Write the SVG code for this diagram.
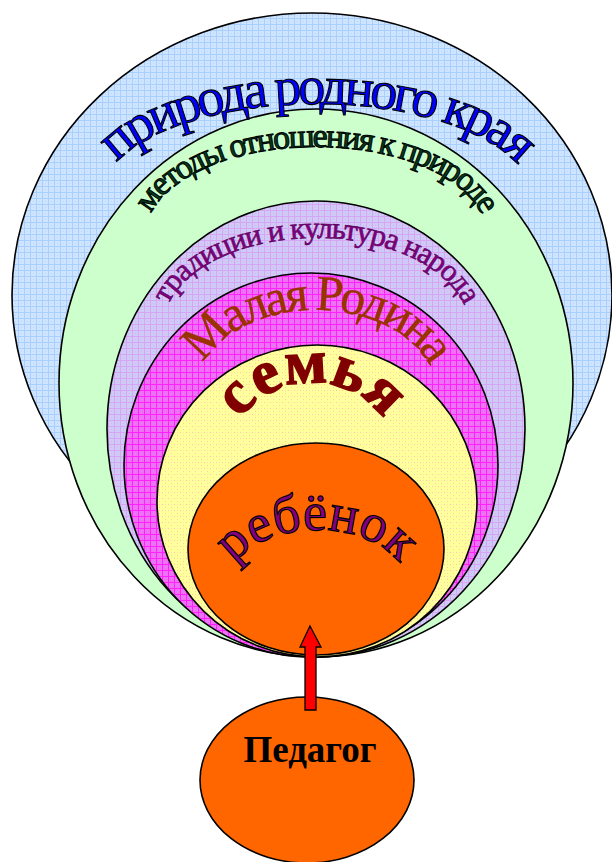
<svg xmlns="http://www.w3.org/2000/svg" width="612" height="862" viewBox="0 0 612 862">
<defs>
<pattern id="pBlue" width="6" height="6" patternUnits="userSpaceOnUse">
<rect width="6" height="6" fill="#CFE5FF"/>
<path d="M0 0.5H6M0.5 0V6" stroke="#A9CFFF" stroke-width="1"/>
<rect x="3" y="3" width="1" height="1" fill="#B8D8FF"/>
</pattern>
<pattern id="pLav" width="6" height="6" patternUnits="userSpaceOnUse">
<rect width="6" height="6" fill="#CECCF6"/>
<path d="M0 0.5H6M0.5 0V6" stroke="#D8A4F4" stroke-width="1"/>
<rect x="3" y="3" width="1" height="1" fill="#DDB0F0"/>
</pattern>
<pattern id="pMag" width="6" height="6" patternUnits="userSpaceOnUse">
<rect width="6" height="6" fill="#F070F4"/>
<path d="M0 0.5H6M0.5 0V6" stroke="#FF22FF" stroke-width="1"/>
<rect x="3" y="3" width="1" height="1" fill="#C890F8"/>
</pattern>
<pattern id="pYel" width="6" height="6" patternUnits="userSpaceOnUse">
<rect width="6" height="6" fill="#FFFF9C"/>
<rect x="0" y="0" width="1" height="1" fill="#FFC0C0"/>
<rect x="3" y="3" width="1" height="1" fill="#FFD0B0"/>
<rect x="3" y="0" width="1" height="1" fill="#FFE0A0"/>
</pattern>
<path id="t1" d="M102 196 A214 92 0 0 1 530 196"/>
<path id="t2" d="M146 235 A170 88 0 0 1 486 235"/>
<path id="t3" d="M163 328 A153 90 0 0 1 469 328"/>
<path id="t4" d="M196 393 A120 83 0 0 1 436 393"/>
<path id="t5" d="M232 450 A80 67 0 0 1 392 450"/>
<path id="t6" d="M227 586 A90 56 0 0 1 407 586"/>
</defs>
<style>
.ring{stroke:#000;stroke-width:1.6}
.sf{font-family:"Liberation Serif","Times New Roman",serif}
</style>

<g id="node-priroda">
<ellipse class="ring" cx="312" cy="295" rx="300" ry="282" fill="url(#pBlue)"/>
</g>
<g id="node-metody">
<ellipse class="ring" cx="316" cy="383" rx="257" ry="274" fill="#CCFFCC"/>
</g>
<g id="node-tradicii">
<ellipse class="ring" cx="316" cy="429" rx="209" ry="228" fill="url(#pLav)"/>
</g>
<g id="node-malaya">
<ellipse class="ring" cx="311" cy="465" rx="187" ry="192" fill="url(#pMag)"/>
</g>
<g id="node-semya">
<ellipse class="ring" cx="317" cy="501" rx="160" ry="156" fill="url(#pYel)"/>
</g>
<g id="node-rebenok">
<ellipse class="ring" cx="316" cy="549" rx="128" ry="106" fill="#FF6600"/>
</g>

<g id="labels">
<text class="sf" font-size="54" letter-spacing="-3.8" fill="#0000FF" stroke="#000" stroke-width="1.1"><textPath href="#t1" startOffset="50%" text-anchor="middle">природа родного края</textPath></text>
<text class="sf" font-size="34" letter-spacing="-2.2" fill="#003C1E" stroke="#000" stroke-width="1"><textPath href="#t2" startOffset="50%" text-anchor="middle">методы отношения к природе</textPath></text>
<text class="sf" font-size="31" letter-spacing="-1.2" fill="#800080" stroke="#5a005a" stroke-width="0.6"><textPath href="#t3" startOffset="50%" text-anchor="middle">традиции и культура народа</textPath></text>
<text class="sf" font-size="50" letter-spacing="-3.4" fill="#993300" stroke="#993300" stroke-width="0.4"><textPath href="#t4" startOffset="50%" text-anchor="middle">Малая Родина</textPath></text>
<text class="sf" font-size="62" font-weight="bold" letter-spacing="0.5" fill="#800000" stroke="#800000" stroke-width="1.5"><textPath href="#t5" startOffset="50%" text-anchor="middle">семья</textPath></text>
<text class="sf" font-size="54" letter-spacing="0" fill="#800080" stroke="#000" stroke-width="1.2"><textPath href="#t6" startOffset="50%" text-anchor="middle">ребёнок</textPath></text>
</g>

<g id="node-pedagog">
<ellipse cx="307" cy="780" rx="107" ry="83" fill="#FF6600" stroke="#000" stroke-width="1.6"/>
<text x="310" y="762" class="sf" font-size="37" font-weight="bold" text-anchor="middle" fill="#000">Педагог</text>
</g>

<g id="connectors">
<polygon points="310,626 321,647 316,647 316,710 305,710 305,647 300,647" fill="#FF0000" stroke="#000" stroke-width="1.3" stroke-linejoin="miter"/>
</g>
</svg>
